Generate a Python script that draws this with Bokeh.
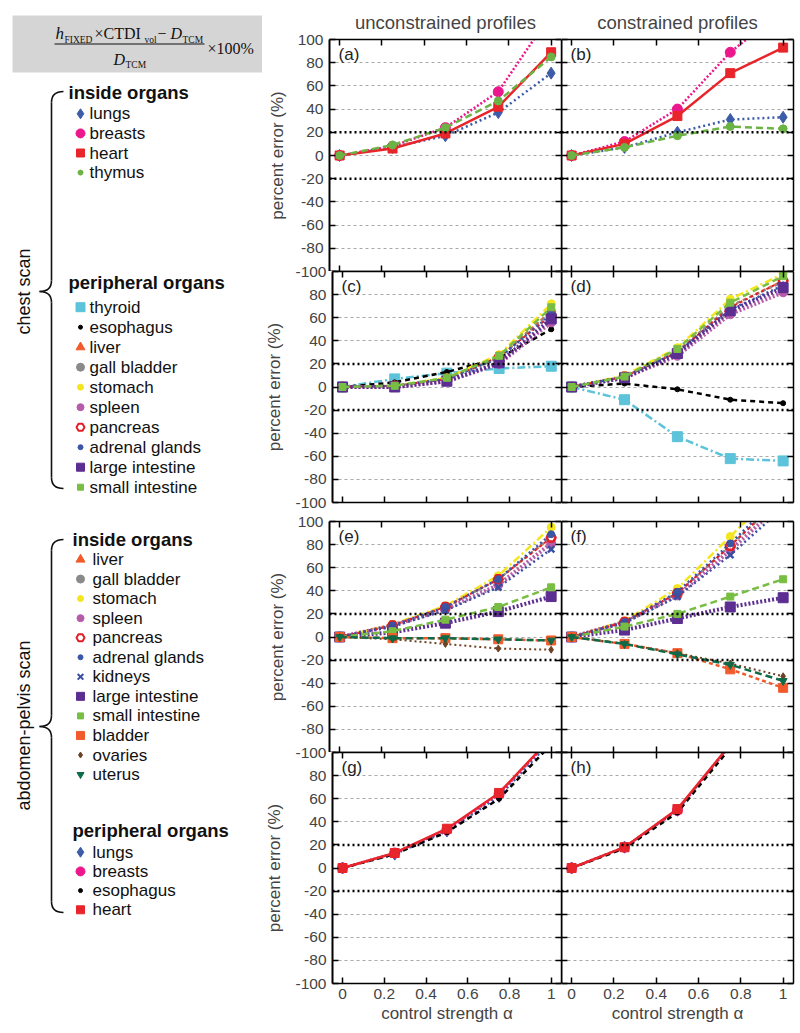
import numpy as np
from bokeh.plotting import figure
from bokeh.layouts import row, column
from bokeh.models import Range1d, FixedTicker, LinearAxis, Span, Label, Grid
from bokeh.core.properties import value
from bokeh.embed import file_html
from bokeh.resources import INLINE

SANS = "Liberation Sans"
SERIF = "Liberation Serif"

# ---------------- data ----------------
ALPHA = [0.0, 0.25, 0.5, 0.75, 1.0]
Y_TICKS = [-100, -80, -60, -40, -20, 0, 20, 40, 60, 80, 100]
Y_TICK_LABELS = ["-100", "-80", "-60", "-40", "-20", "0", "20", "40", "60", "80", "100"]
X_TICKS = [0.0, 0.2, 0.4, 0.6, 0.8, 1.0]
X_TICK_LABELS = ["0", "0.2", "0.4", "0.6", "0.8", "1"]
GRID_LEVELS = [-80, -60, -40, 0, 40, 60, 80]
THRESHOLDS = [-20, 20]

COLUMN_TITLES = ["unconstrained profiles", "constrained profiles"]
PANEL_LABELS = ["(a)", "(b)", "(c)", "(d)", "(e)", "(f)", "(g)", "(h)"]
Y_LABEL = "percent error (%)"
X_LABEL = "control strength \u03b1"
SCAN_LABELS = ["chest scan", "abdomen-pelvis scan"]
GROUP_HEADERS = ["inside organs", "peripheral organs"]

CHEST_INSIDE = ["lungs", "breasts", "heart", "thymus"]
CHEST_PERIPHERAL = ["thyroid", "esophagus", "liver", "gall bladder", "stomach", "spleen",
                    "pancreas", "adrenal glands", "large intestine", "small intestine"]
ABD_INSIDE = ["liver", "gall bladder", "stomach", "spleen", "pancreas", "adrenal glands",
              "kidneys", "large intestine", "small intestine", "bladder", "ovaries", "uterus"]
ABD_PERIPHERAL = ["lungs", "breasts", "esophagus", "heart"]

# (a) chest, inside organs, unconstrained
A_DATA = {"lungs": [0, 7, 17, 37, 71], "breasts": [0, 8, 24, 55, 122],
          "heart": [0, 6, 19, 42, 89], "thymus": [0, 9, 24, 47, 85]}
# (b) chest, inside organs, constrained
B_DATA = {"lungs": [0, 7, 20, 31, 33], "breasts": [0, 12, 40, 89, 125],
          "heart": [0, 10, 34, 71, 93], "thymus": [0, 7, 17, 25, 23]}
# (c) chest, peripheral organs, unconstrained
C_DATA = {"thyroid": [0, 7, 12, 16, 18], "esophagus": [0, 4, 13, 25, 50],
          "liver": [0, 1, 7, 26, 66], "gall bladder": [0, 1, 7, 25, 65],
          "stomach": [0, 1, 8, 28, 72], "spleen": [0, 0, 5, 20, 56],
          "pancreas": [0, 1, 7, 26, 62], "adrenal glands": [0, 1, 7, 25, 63],
          "large intestine": [0, 0, 5, 21, 59], "small intestine": [0, 1, 8, 27, 69]}
# (d) chest, peripheral organs, constrained
D_DATA = {"thyroid": [0, -11, -43, -62, -64], "esophagus": [0, 3, -2, -11, -14],
          "liver": [0, 9, 31, 70, 92], "gall bladder": [0, 9, 31, 70, 91],
          "stomach": [0, 10, 34, 76, 98], "spleen": [0, 8, 27, 63, 82],
          "pancreas": [0, 9, 30, 69, 92], "adrenal glands": [0, 9, 30, 67, 88],
          "large intestine": [0, 8, 29, 66, 86], "small intestine": [0, 9, 33, 73, 96]}
# (e) abdomen-pelvis, inside organs, unconstrained
E_DATA = {"liver": [0, 10, 26, 50, 86], "gall bladder": [0, 10, 26, 50, 87],
          "stomach": [0, 11, 27, 53, 95], "spleen": [0, 10, 24, 45, 81],
          "pancreas": [0, 10, 26, 50, 86], "adrenal glands": [0, 10, 26, 50, 89],
          "kidneys": [0, 9, 23, 43, 76], "large intestine": [0, 4, 12, 22, 35],
          "small intestine": [0, 5, 15, 26, 43], "bladder": [0, -1, -1, -2, -3],
          "ovaries": [0, -2, -6, -10, -11], "uterus": [0, -1, -1, -2, -3]}
# (f) abdomen-pelvis, inside organs, constrained
F_DATA = {"liver": [0, 13, 38, 79, 122], "gall bladder": [0, 13, 38, 79, 122],
          "stomach": [0, 14, 42, 87, 132], "spleen": [0, 13, 36, 75, 117],
          "pancreas": [0, 13, 38, 79, 122], "adrenal glands": [0, 13, 39, 81, 125],
          "kidneys": [0, 12, 35, 71, 112], "large intestine": [0, 6, 16, 26, 34],
          "small intestine": [0, 9, 20, 35, 50], "bladder": [0, -6, -14, -28, -44],
          "ovaries": [0, -6, -14, -23, -34], "uterus": [0, -6, -15, -24, -38]}
# (g) abdomen-pelvis, peripheral organs, unconstrained
G_DATA = {"lungs": [0, 12, 32, 62, 110], "breasts": [0, 13, 33, 64, 112],
          "esophagus": [0, 12, 31, 60, 107], "heart": [0, 13, 34, 65, 113]}
# (h) abdomen-pelvis, peripheral organs, constrained
H_DATA = {"lungs": [0, 18, 50, 106, 165], "breasts": [0, 18, 50, 107, 166],
          "esophagus": [0, 17, 48, 104, 162], "heart": [0, 18, 51, 107, 166]}

# ---------------- styles ----------------
STYLE = {
    "lungs": dict(color="#3D5CA8", marker="diamond", size=12, dash="2 3", lw=2.5),
    "breasts": dict(color="#EC178C", marker="circle", size=10, dash="2 2", lw=2.5),
    "heart": dict(color="#E8252B", marker="square", size=9, dash="solid", lw=2.5),
    "thymus": dict(color="#6BB344", marker="circle", size=8, dash="7 4", lw=2.5),
    "thyroid": dict(color="#5CC3DA", marker="square", size=10, dash="8 3 2 3", lw=2.5),
    "esophagus": dict(color="#000000", marker="circle", size=5, dash="5 4", lw=2.5),
    "liver": dict(color="#F15A29", marker="triangle", size=9, dash="4 3", lw=2),
    "gall bladder": dict(color="#8A8A8A", marker="circle", size=9, dash="4 3", lw=2),
    "stomach": dict(color="#F4E61E", marker="circle", size=8, dash="8 3 2 3", lw=2.5),
    "spleen": dict(color="#B65BAA", marker="circle", size=9, dash="2 2", lw=4),
    "pancreas": dict(color="#E21E26", marker="hex", size=9, dash="3 3", lw=2, fill="#FFFFFF"),
    "adrenal glands": dict(color="#3A56A5", marker="circle", size=7, dash="2 3", lw=2.5),
    "kidneys": dict(color="#3B4EA0", marker="x", size=9, dash="2 3", lw=2.5),
    "large intestine": dict(color="#5C2E91", marker="square", size=10, dash="2 2", lw=4),
    "small intestine": dict(color="#78BE43", marker="square", size=7, dash="7 4", lw=2.5),
    "bladder": dict(color="#F25A2B", marker="square", size=9, dash="4 3", lw=2.5),
    "ovaries": dict(color="#6E4325", marker="diamond", size=7, dash="2 3", lw=2),
    "uterus": dict(color="#0E6B48", marker="inverted_triangle", size=8, dash="7 4", lw=2.5),
}
LEGEND_SIZE = {"lungs": 10, "breasts": 9, "heart": 8, "thymus": 5, "thyroid": 9, "esophagus": 4,
               "liver": 9, "gall bladder": 8, "stomach": 6, "spleen": 7, "pancreas": 8,
               "adrenal glands": 5, "kidneys": 8, "large intestine": 8, "small intestine": 6,
               "bladder": 8, "ovaries": 6, "uterus": 7}


def inner_axis(ticks, lw=1.5):
    return LinearAxis(ticker=FixedTicker(ticks=ticks), major_tick_in=6, major_tick_out=0,
                      minor_tick_in=0, minor_tick_out=0, major_label_standoff=0,
                      major_label_text_font_size="0px",
                      major_label_overrides={t: "" for t in ticks},
                      axis_line_width=lw, axis_line_color="black",
                      major_tick_line_color="black", major_tick_line_width=1.5)


# per row: (top border, plot height, bottom border, overlap with row above)
ROW_GEOM = {0: (39, 232, 0, 0), 1: (9, 231, 9, 9), 2: (10, 231, 0, 0), 3: (9, 231, 46, 9)}


def make_panel(col, rowi, data, organs, label):
    left = col == 0
    bottom = rowi == 3
    top_b, plot_h, bot_b, overlap = ROW_GEOM[rowi]
    w = 299 if left else 237
    p = figure(width=w, height=plot_h + top_b + bot_b,
               x_range=Range1d(-0.048, 1.049), y_range=Range1d(-100, 100),
               x_axis_type=None, y_axis_type=None,
               output_backend="svg", toolbar_location=None,
               min_border_left=67 if left else 0, min_border_right=0 if left else 5,
               min_border_top=top_b, min_border_bottom=bot_b,
               margin=(-overlap, 0, 0, 0))
    p.outline_line_color = None
    p.background_fill_color = None
    p.border_fill_color = None

    if rowi == 0:
        p.title.text = COLUMN_TITLES[col]
        p.title.align = "center"
        p.title.text_font = SANS
        p.title.text_font_size = "18.5px"
        p.title.text_font_style = "normal"
        p.title.standoff = 13

    p.add_layout(Grid(dimension=1, ticker=FixedTicker(ticks=GRID_LEVELS),
                      grid_line_color="#A8A8A8", grid_line_dash="3 3", grid_line_width=1))
    for t in THRESHOLDS:
        p.add_layout(Span(location=t, dimension="width", line_color="black",
                          line_dash="2 3", line_width=2.5))

    # left axis
    if left:
        ov = {t: l for t, l in zip(Y_TICKS, Y_TICK_LABELS)}
        if rowi in (0, 2):
            ov[-100] = ""          # shown by the panel below, across the boundary
        if rowi in (1, 3):
            ov[100] = Y_TICK_LABELS[0]
        ax = LinearAxis(ticker=FixedTicker(ticks=Y_TICKS), axis_label=Y_LABEL,
                        axis_label_text_font=SANS, axis_label_text_font_size="17px",
                        axis_label_text_font_style="normal", axis_label_standoff=8,
                        major_label_text_font=SANS, major_label_text_font_size="15.5px",
                        major_label_standoff=6, major_tick_in=6, major_tick_out=0,
                        minor_tick_in=0, minor_tick_out=0,
                        major_label_overrides=ov, axis_line_width=2,
                        major_tick_line_width=1.5)
    else:
        ax = inner_axis(Y_TICKS, lw=2)
    p.add_layout(ax, "left")
    p.add_layout(inner_axis(Y_TICKS), "right")
    p.add_layout(inner_axis(X_TICKS), "above")
    if bottom:
        bx = LinearAxis(ticker=FixedTicker(ticks=X_TICKS), axis_label=X_LABEL,
                        axis_label_text_font=SANS, axis_label_text_font_size="17px",
                        axis_label_text_font_style="normal", axis_label_standoff=2,
                        major_label_text_font=SANS, major_label_text_font_size="15.5px",
                        major_label_standoff=5, major_tick_in=6, major_tick_out=0,
                        minor_tick_in=0, minor_tick_out=0,
                        major_label_overrides={t: l for t, l in zip(X_TICKS, X_TICK_LABELS)},
                        axis_line_width=1.5, major_tick_line_width=1.5)
        p.add_layout(bx, "below")
    else:
        p.add_layout(inner_axis(X_TICKS), "below")

    for organ in organs:
        st = STYLE[organ]
        p.line(ALPHA, data[organ], line_color=st["color"], line_width=st["lw"],
               line_dash=st["dash"])
        p.scatter(ALPHA, data[organ], marker=st["marker"], size=st["size"],
                  fill_color=st.get("fill", st["color"]), line_color=st["color"],
                  line_width=2.5 if st["marker"] in ("x", "hex") else 1)

    p.add_layout(Label(x=-0.005, y=87, text=label, text_font=SANS,
                       text_font_size="17px", text_baseline="middle", text_color="#222222"))
    return p


pa = make_panel(0, 0, A_DATA, CHEST_INSIDE, PANEL_LABELS[0])
pb = make_panel(1, 0, B_DATA, CHEST_INSIDE, PANEL_LABELS[1])
pc = make_panel(0, 1, C_DATA, CHEST_PERIPHERAL, PANEL_LABELS[2])
pd = make_panel(1, 1, D_DATA, CHEST_PERIPHERAL, PANEL_LABELS[3])
pe = make_panel(0, 2, E_DATA, ABD_INSIDE, PANEL_LABELS[4])
pf = make_panel(1, 2, F_DATA, ABD_INSIDE, PANEL_LABELS[5])
pg = make_panel(0, 3, G_DATA, ABD_PERIPHERAL, PANEL_LABELS[6])
ph = make_panel(1, 3, H_DATA, ABD_PERIPHERAL, PANEL_LABELS[7])

# ---------------- left column: formula + legend ----------------
TOTAL_H = sum(g[0] + g[1] + g[2] - g[3] for g in ROW_GEOM.values())
leg = figure(width=262, height=TOTAL_H, x_range=Range1d(0, 262), y_range=Range1d(TOTAL_H, 0),
             x_axis_type=None, y_axis_type=None, output_backend="svg", toolbar_location=None,
             min_border=0, min_border_left=0, min_border_right=0, min_border_top=0,
             min_border_bottom=0)
leg.outline_line_color = None

# formula box
leg.quad(left=[12], right=[262], top=[15], bottom=[72], fill_color="#D5D5D5", line_color=None)
FORMULA = [  # (x, y, text, size, style)
    (55, 33, "h", "17px", "italic"),
    (64, 39, "FIXED", "9.5px", "normal"),
    (94, 33, "\u00d7CTDI", "16px", "normal"),
    (144, 39, "vol", "9.5px", "normal"),
    (157, 33, "\u2212", "16px", "normal"),
    (170, 33, "D", "16px", "italic"),
    (182, 39, "TCM", "9.5px", "normal"),
    (113, 59, "D", "16px", "italic"),
    (125, 64, "TCM", "9.5px", "normal"),
    (207, 48, "\u00d7100%", "16px", "normal"),
]
for fx, fy, ft, fs, fst in FORMULA:
    leg.text(x=[fx], y=[fy], text=[ft], text_font=value(SERIF), text_font_size=fs,
             text_font_style=fst, text_baseline="middle", text_align="left", text_color="#111111")
leg.segment(x0=[54], y0=[43.5], x1=[204], y1=[43.5], line_color="#111111", line_width=1.2)


def legend_block(header, header_y, header_x, first_y, step, text_x, organs):
    leg.text(x=[header_x], y=[header_y], text=[header],
             text_font=value(SANS), text_font_size="18.5px", text_font_style="bold",
             text_baseline="middle", text_color="#111111")
    ys = [first_y + i * step for i in range(len(organs))]
    for organ, yy in zip(organs, ys):
        st = STYLE[organ]
        leg.scatter([80], [yy], marker=st["marker"], size=LEGEND_SIZE[organ],
                    fill_color=st.get("fill", st["color"]), line_color=st["color"],
                    line_width=2 if st["marker"] in ("x", "hex") else 1)
    leg.text(x=[text_x] * len(organs), y=ys, text=organs, text_font=value(SANS),
             text_font_size="17px", text_baseline="middle", text_color="#111111")


legend_block(GROUP_HEADERS[0], 92, 68, 113.3, 19.6, 89, CHEST_INSIDE)
legend_block(GROUP_HEADERS[1], 282, 68, 306.7, 20.0, 89, CHEST_PERIPHERAL)
legend_block(GROUP_HEADERS[0], 539, 72, 559, 19.55, 92, ABD_INSIDE)
legend_block(GROUP_HEADERS[1], 830, 72, 851.7, 19.2, 92, ABD_PERIPHERAL)


def brace(y0, ym, y1, xl=51, xt=39, xh=63, r=11):
    leg.quadratic(x0=[xh, xl, xt, xl], y0=[y0, ym - r, ym, y1 - r],
                  x1=[xl, xt, xl, xh], y1=[y0 + r, ym, ym + r, y1],
                  cx=[xl, xl, xl, xl], cy=[y0, ym, ym, y1],
                  line_color="#111111", line_width=1.6)
    leg.segment(x0=[xl, xl], y0=[y0 + r, ym + r], x1=[xl, xl], y1=[ym - r, y1 - r],
                line_color="#111111", line_width=1.6)


brace(91, 291, 488)
brace(539, 726, 912)

leg.text(x=[23, 23], y=[291, 725], text=SCAN_LABELS, angle=np.pi / 2, text_font=value(SANS),
         text_font_size="18px", text_align="center", text_baseline="middle", text_color="#111111")

grid = column(row(pa, pb), row(pc, pd), row(pe, pf), row(pg, ph))
layout = row(leg, grid)
open("out.html", "w").write(file_html(layout, INLINE, title="percent error"))
